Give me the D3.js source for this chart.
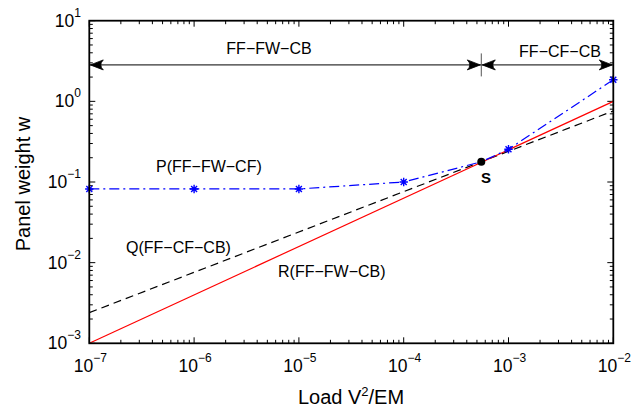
<!DOCTYPE html>
<html><head><meta charset="utf-8">
<script src="https://cdn.jsdelivr.net/npm/d3@7"></script>
<style>body{margin:0;background:#fff}svg{display:block}text{font-family:"Liberation Sans",Arial,sans-serif}</style>
</head><body><svg id="c" width="641" height="408"></svg>
<script>
const xTicks = [1e-7,1e-6,1e-5,1e-4,1e-3,1e-2];
const xTickExp = ["−7","−6","−5","−4","−3","−2"];
const yTicks = [1e-3,1e-2,1e-1,1e0,1e1];
const yTickExp = ["−3","−2","−1","0","1"];
const pX = [1e-7,1e-6,1e-5,1e-4,5.5e-4,1e-3,1e-2];
const pY = [0.082,0.082,0.082,0.1,0.178,0.255,1.85];
const qX = [1e-7,1e-2];
const qY = [0.0024,0.76];
const rX = [1e-7,1e-2];
const rY = [0.001,1.0];
const sPoint = [5.5e-4,0.178];
const arrowY = 2.83;
const regionLabels = ["FF−FW−CB","FF−CF−CB"];
const curveLabels = ["P(FF−FW−CF)","Q(FF−CF−CB)","R(FF−FW−CB)","S"];

const svg = d3.select("#c");
const L=89.3,R=613.3,T=20.7,B=343.3;
const x = d3.scaleLog().domain([1e-7,1e-2]).range([L,R]);
const y = d3.scaleLog().domain([1e-3,1e1]).range([B,T]);

// minor ticks
const minorX=[],minorY=[];
for(let e=-7;e<-2;e++) for(let k=2;k<10;k++) minorX.push(k*Math.pow(10,e));
for(let e=-3;e<1;e++) for(let k=2;k<10;k++) minorY.push(k*Math.pow(10,e));
const g = svg.append("g").attr("stroke","#000").attr("stroke-width",1);
minorX.forEach(v=>{const px=x(v);g.append("line").attr("x1",px).attr("x2",px).attr("y1",B).attr("y2",B-3.5);g.append("line").attr("x1",px).attr("x2",px).attr("y1",T).attr("y2",T+3.5);});
xTicks.forEach(v=>{const px=x(v);g.append("line").attr("x1",px).attr("x2",px).attr("y1",B).attr("y2",B-6);g.append("line").attr("x1",px).attr("x2",px).attr("y1",T).attr("y2",T+6);});
minorY.forEach(v=>{const py=y(v);g.append("line").attr("y1",py).attr("y2",py).attr("x1",L).attr("x2",L+3.5);g.append("line").attr("y1",py).attr("y2",py).attr("x1",R).attr("x2",R-3.5);});
yTicks.forEach(v=>{const py=y(v);g.append("line").attr("y1",py).attr("y2",py).attr("x1",L).attr("x2",L+6);g.append("line").attr("y1",py).attr("y2",py).attr("x1",R).attr("x2",R-6);});

// tick labels
xTicks.forEach((v,i)=>{
  const t=svg.append("text").attr("x",x(v)+1).attr("y",372).attr("text-anchor","middle").attr("font-size",17.5);
  t.append("tspan").text("10");
  t.append("tspan").attr("dy",-10).attr("font-size",12).text(xTickExp[i]);
});
yTicks.forEach((v,i)=>{
  const t=svg.append("text").attr("x",81).attr("y",y(v)+6).attr("text-anchor","end").attr("font-size",17.5);
  t.append("tspan").text("10");
  t.append("tspan").attr("dy",-10).attr("font-size",12).text(yTickExp[i]);
});

// axis titles
svg.append("text").attr("transform","translate(30,184) rotate(-90)").attr("text-anchor","middle").attr("font-size",20).text("Panel weight w");
const xt=svg.append("text").attr("x",351).attr("y",404).attr("text-anchor","middle").attr("font-size",20);
xt.append("tspan").text("Load V");
xt.append("tspan").attr("dy",-8).attr("font-size",13).text("2");
xt.append("tspan").attr("dy",8).text("/EM");

const line = d3.line().x(d=>x(d[0])).y(d=>y(d[1]));
const plot = svg.append("g");
plot.append("path").datum(qX.map((v,i)=>[v,qY[i]])).attr("d",line).attr("fill","none").attr("stroke","#000").attr("stroke-width",1.2).attr("stroke-dasharray","8,5");
plot.append("path").datum(rX.map((v,i)=>[v,rY[i]])).attr("d",line).attr("fill","none").attr("stroke","#ff0000").attr("stroke-width",1.2);
plot.append("path").datum(pX.map((v,i)=>[v,pY[i]])).attr("d",line).attr("fill","none").attr("stroke","#0000ff").attr("stroke-width",1.2).attr("stroke-dasharray","10,4,2,4");
// star markers
const starPath = (()=>{const r=4.2,d=r*Math.SQRT1_2;return `M${-r},0L${r},0M0,${-r}L0,${r}M${-d},${-d}L${d},${d}M${-d},${d}L${d},${-d}`;})();
pX.forEach((v,i)=>{
  if(v===sPoint[0]) return;
  plot.append("path").attr("d",starPath).attr("transform",`translate(${x(v)},${y(pY[i])})`).attr("stroke","#0000ff").attr("stroke-width",1.4).attr("fill","none");
});
plot.append("circle").attr("cx",x(sPoint[0])).attr("cy",y(sPoint[1])).attr("r",4).attr("fill","#000");

// axes box
svg.append("rect").attr("x",L).attr("y",T).attr("width",R-L).attr("height",B-T).attr("fill","none").attr("stroke","#000").attr("stroke-width",1.8);

// region arrows
const ay=y(arrowY), sx=x(sPoint[0]);
const ar = svg.append("g").attr("stroke","#000").attr("fill","none").attr("stroke-width",1);
function head(px,dir){ // dir +1 points right
  const bx=px-dir*13, mx=px-dir*8;
  ar.append("path").attr("d",`M${px},${ay}L${bx},${ay-5}Q${mx},${ay} ${bx},${ay+5}Z`).attr("fill","#000").attr("stroke","#000").attr("stroke-width",0.8);
}
ar.append("line").attr("x1",L).attr("x2",R).attr("y1",ay).attr("y2",ay);
ar.append("line").attr("x1",sx).attr("x2",sx).attr("y1",ay-11.5).attr("y2",ay+11.5).attr("stroke","#555");
head(L+1,-1); head(sx-1,1); head(sx+1,-1); head(R-1,1);

svg.append("text").attr("x",269).attr("y",54).attr("text-anchor","middle").attr("font-size",16).text(regionLabels[0]);
svg.append("text").attr("x",560).attr("y",57).attr("text-anchor","middle").attr("font-size",16).text(regionLabels[1]);
svg.append("text").attr("x",156).attr("y",171.5).attr("font-size",16).text(curveLabels[0]);
svg.append("text").attr("x",126).attr("y",253).attr("font-size",16).text(curveLabels[1]);
svg.append("text").attr("x",278).attr("y",277).attr("font-size",16).text(curveLabels[2]);
svg.append("text").attr("x",481).attr("y",183).attr("font-size",15).attr("font-weight","bold").text(curveLabels[3]);
</script></body></html>
